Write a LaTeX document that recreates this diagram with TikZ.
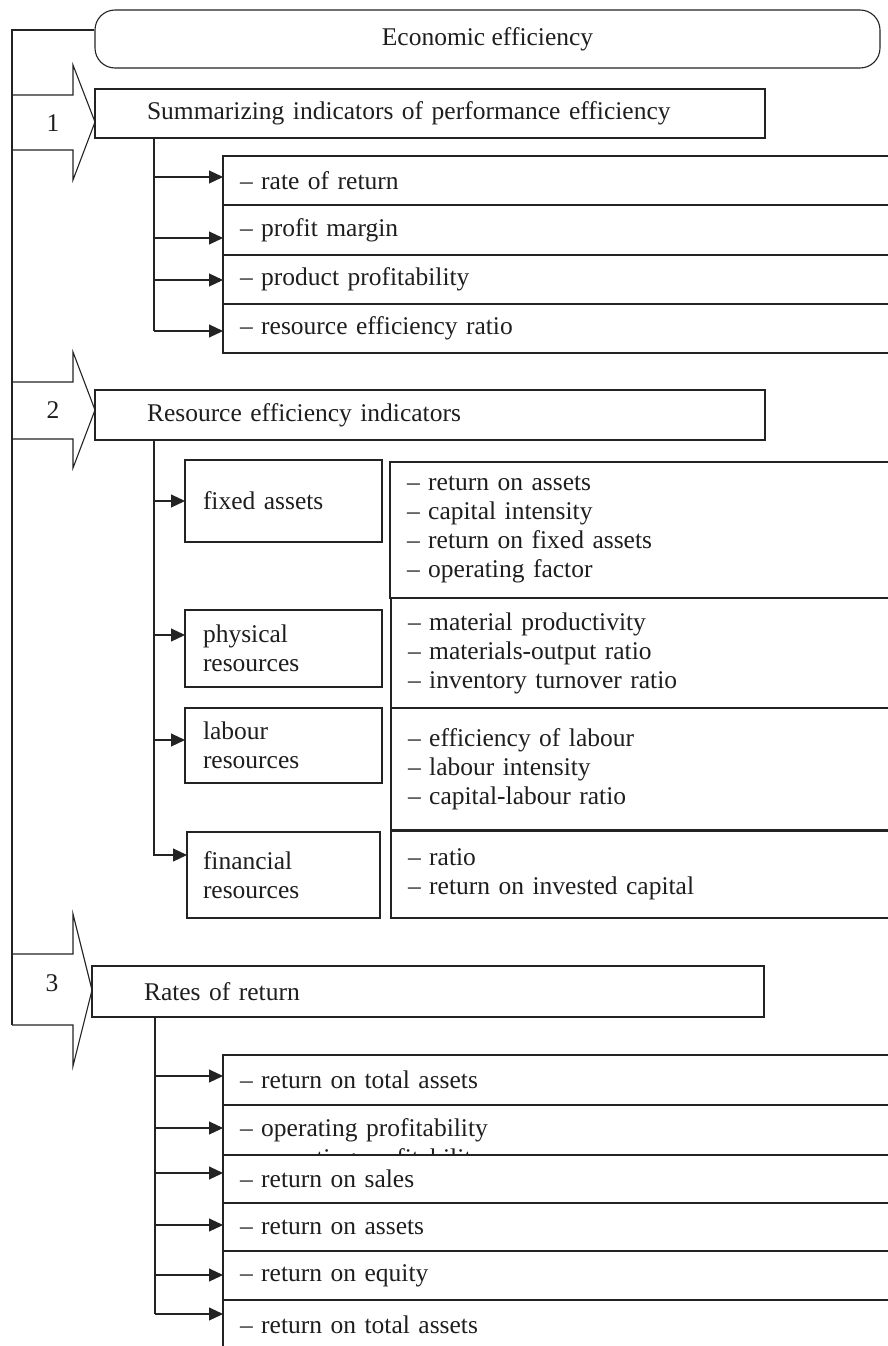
\documentclass[tikz,border=0pt]{standalone}
\usepackage{fontspec}
\setmainfont{Liberation Serif}
\usetikzlibrary{arrows.meta}
\begin{document}
\begin{tikzpicture}[x=1pt,y=-1pt, line width=1.1pt, draw={rgb,255:red,35;green,35;blue,35},
  every node/.style={font=\fontsize{25.5}{29}\selectfont, text={rgb,255:red,30;green,30;blue,30}},
  box/.style={draw, anchor=north west, align=left, inner ysep=0pt, outer sep=0pt},
  arr/.style={-{Triangle[length=14pt,width=13pt]}},
  blockarrow/.style={draw, line join=miter}]
\useasboundingbox (0,0) rectangle (888,1346);
\clip (0,0) rectangle (888,1346);

% top box
\node[draw, rounded corners=20pt, minimum width=785pt, minimum height=58pt, inner sep=0pt] (econ) at (487.5,39) {Economic efficiency};

% spine
\draw ([yshift=9pt]econ.west) -| (12,1025);

% block arrows
\draw[blockarrow] (12,95) -- (73,95) -- (73,65) -- (95,122) -- (73,180) -- (73,150) -- (12,150);
\draw[blockarrow] (12,382) -- (73,382) -- (73,352) -- (95,410) -- (73,468) -- (73,439) -- (12,439);
\draw[blockarrow] (12,954) -- (73,954) -- (73,914) -- (92,990) -- (73,1066) -- (73,1025) -- (12,1025);
\node (n1) at (53,123) {1};
\node (n2) at (53,410) {2};
\node (n3) at (52,983) {3};

% ---------- section 1
\node[box, inner xsep=52pt, text width=566pt, minimum height=49pt] (b1) at (95,89) {Summarizing indicators of performance efficiency};
\node[box, inner xsep=17pt, text width=643pt, minimum height=49pt] (r11) at (223,156) {– rate of return};
\node[box, inner xsep=17pt, text width=643pt, minimum height=50pt] (r12) at (223,205) {– profit margin};
\node[box, inner xsep=17pt, text width=643pt, minimum height=49pt] (r13) at (223,255) {– product profitability};
\node[box, inner xsep=17pt, text width=643pt, minimum height=49pt] (r14) at (223,304) {– resource efficiency ratio};
\coordinate (t1) at ([xshift=59pt]b1.south west);
\coordinate (e11) at (154,177);
\coordinate (e12) at (154,238);
\coordinate (e13) at (154,280);
\coordinate (e14) at (154,331);
\draw (t1) -- (e14);
\draw[arr] (e11) -- (e11 -| r11.west);
\draw[arr] (e12) -- (e12 -| r12.west);
\draw[arr] (e13) -- (e13 -| r13.west);
\draw[arr] (e14) -- (e14 -| r14.west);

% ---------- section 2
\node[box, inner xsep=52pt, text width=566pt, minimum height=50pt] (b2) at (95,390) {Resource efficiency indicators};
\node[box, inner xsep=18pt, text width=161pt, minimum height=82pt] (f1) at (185,460) {fixed assets};
\node[box, inner xsep=18pt, text width=161pt, minimum height=77pt] (f2) at (185,610) {physical\\resources};
\node[box, inner xsep=18pt, text width=161pt, minimum height=75pt] (f3) at (185,708) {labour\\resources};
\node[box, inner xsep=16pt, text width=161pt, minimum height=86pt] (f4) at (187,832) {financial\\resources};
\node[box, inner xsep=17pt, text width=476pt, minimum height=136pt] (g1) at (390,462) {– return on assets\\– capital intensity\\– return on fixed assets\\– operating factor};
\node[box, inner xsep=17pt, text width=475pt, minimum height=110pt] (g2) at (391,598) {– material productivity\\– materials-output ratio\\– inventory turnover ratio};
\node[box, inner xsep=17pt, text width=475pt, minimum height=122pt] (g3) at (391,708) {– efficiency of labour\\– labour intensity\\– capital-labour ratio\\[14pt]};
\node[box, inner xsep=17pt, text width=475pt, minimum height=87pt] (g4) at (391,831) {– ratio\\– return on invested capital};
\coordinate (t2) at ([xshift=59pt]b2.south west);
\coordinate (e21) at (154,501);
\coordinate (e22) at (154,635);
\coordinate (e23) at (154,740);
\coordinate (e24) at (154,855);
\draw[arr] (t2) -- (e24) -- (e24 -| f4.west);
\draw[arr] (e21) -- (e21 -| f1.west);
\draw[arr] (e22) -- (e22 -| f2.west);
\draw[arr] (e23) -- (e23 -| f3.west);

% ---------- section 3
\node[box, inner xsep=52pt, text width=568pt, minimum height=51pt] (b3) at (92,966) {Rates of return};
\node[box, inner xsep=17pt, text width=643pt, minimum height=50pt] (k1) at (223,1055) {– return on total assets};
\node[box, inner xsep=17pt, text width=643pt, minimum height=50pt] (k2) at (223,1105) {– operating profitability};
\node[anchor=base west, inner sep=0pt] (ghost) at (240,1166) {– operating profitability};
\node[box, fill=white, inner xsep=17pt, text width=643pt, minimum height=48pt] (k3) at (223,1155) {– return on sales};
\node[box, inner xsep=17pt, text width=643pt, minimum height=48pt] (k4) at (223,1203) {– return on assets};
\node[box, inner xsep=17pt, text width=643pt, minimum height=49pt] (k5) at (223,1251) {– return on equity};
\node[box, inner xsep=17pt, text width=643pt, minimum height=50pt] (k6) at (223,1300) {– return on total assets};
\coordinate (t3) at ([xshift=63pt]b3.south west);
\coordinate (e31) at (155,1076);
\coordinate (e32) at (155,1128);
\coordinate (e33) at (155,1173);
\coordinate (e34) at (155,1225);
\coordinate (e35) at (155,1275);
\coordinate (e36) at (155,1314);
\draw (t3) -- (e36);
\draw[arr] (e31) -- (e31 -| k1.west);
\draw[arr] (e32) -- (e32 -| k2.west);
\draw[arr] (e33) -- (e33 -| k3.west);
\draw[arr] (e34) -- (e34 -| k4.west);
\draw[arr] (e35) -- (e35 -| k5.west);
\draw[arr] (e36) -- (e36 -| k6.west);
\end{tikzpicture}
\end{document}
